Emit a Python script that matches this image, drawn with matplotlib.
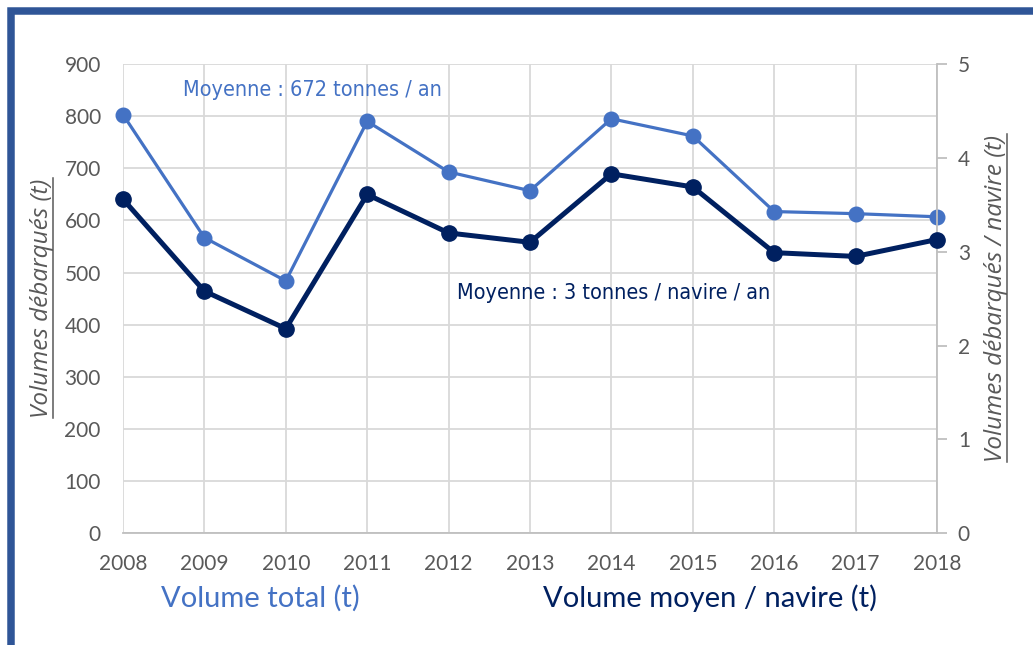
import matplotlib
matplotlib.use("Agg")
import matplotlib.pyplot as plt
from matplotlib.patches import Rectangle
from matplotlib.lines import Line2D

years = ["2008", "2009", "2010", "2011", "2012", "2013", "2014", "2015", "2016", "2017", "2018"]
volume_total = [803, 567, 484, 790, 693, 657, 795, 762, 617, 613, 607]
volume_moyen = [3.56, 2.58, 2.18, 3.61, 3.20, 3.10, 3.83, 3.69, 2.99, 2.95, 3.13]
left_ticks = [0, 100, 200, 300, 400, 500, 600, 700, 800, 900]
right_ticks = [0, 1, 2, 3, 4, 5]

LIGHT = "#4472C4"
DARK = "#002060"
GRAY = "#595959"
GRID = "#D9D9D9"

W, H = 1033, 645
fig = plt.figure(figsize=(W / 100, H / 100), dpi=100)
fig.patch.set_facecolor("white")

# frame
fig.patches.append(Rectangle((10.5 / W, -20 / H), (W + 40) / W, (H - 11 + 20) / H,
                             transform=fig.transFigure, fill=False,
                             edgecolor="#2F5597", linewidth=5.4, zorder=0))

ax1 = fig.add_axes([123 / W, 1 - 533.3 / H, (937 - 123) / W, (533.3 - 64) / H])
ax2 = ax1.twinx()

x = list(range(len(years)))

ax1.plot(x, volume_total, color=LIGHT, lw=2.3, marker="o", ms=10.5, zorder=3, clip_on=False)
ax2.plot(x, volume_moyen, color=DARK, lw=3.6, marker="o", ms=11, zorder=3, clip_on=False)

ax1.set_xlim(0, len(years) - 1)
ax1.set_ylim(0, 900)
ax2.set_ylim(0, 5)
ax1.set_yticks(left_ticks)
ax2.set_yticks(right_ticks)
ax1.set_xticks(x)
ax1.set_xticklabels(years)

for lab in ax1.get_xticklabels() + ax1.get_yticklabels() + ax2.get_yticklabels():
    lab.set_fontfamily("Lato")
    lab.set_fontsize(15)
    lab.set_color(GRAY)

ax1.grid(True, color=GRID, lw=1.3)
ax1.set_axisbelow(True)
ax1.tick_params(axis="x", length=0, pad=15)
ax1.tick_params(axis="y", length=0, pad=16)
ax2.tick_params(axis="y", length=7, width=1.3, color="#BFBFBF", pad=8, direction="out")

for ax in (ax1, ax2):
    for s in ax.spines.values():
        s.set_visible(False)
ax1.spines["bottom"].set_visible(True)
ax1.spines["bottom"].set_color("#BFBFBF")
ax1.spines["bottom"].set_linewidth(1.3)
ax2.spines["right"].set_visible(True)
ax2.spines["right"].set_color("#BFBFBF")
ax2.spines["right"].set_linewidth(1.3)

cond = dict(family="DejaVu Sans", fontstretch="condensed", fontsize=15.5)
ax1.text(0.74, 850, "Moyenne : 672 tonnes / an", color=LIGHT,
         ha="left", va="center", zorder=5, **cond)
ax1.text(4.10, 461, "Moyenne : 3 tonnes / navire / an", color=DARK,
         ha="left", va="center", zorder=5, **cond)

fig.text(260 / W, 1 - 598 / H, "Volume total (t)", color=LIGHT, fontsize=21,
         family="Lato", ha="center", va="center")
fig.text(710 / W, 1 - 598 / H, "Volume moyen / navire (t)", color=DARK, fontsize=21,
         family="Lato", ha="center", va="center")

lt = fig.text(42 / W, 1 - 298 / H, "Volumes débarqués (t)", color=GRAY, fontsize=17.5,
              family="Open Sans", style="italic", rotation=90, ha="center", va="center")
rt = fig.text(996 / W, 1 - 298 / H, "Volumes débarqués / navire (t)", color=GRAY, fontsize=17.5,
              family="Open Sans", style="italic", rotation=90, ha="center", va="center")

fig.canvas.draw()
r = fig.canvas.get_renderer()
for t in (lt, rt):
    bb = t.get_window_extent(r)
    xu = bb.x1 - 1
    fig.lines.append(Line2D([xu / W, xu / W], [bb.y0 / H, bb.y1 / H],
                            transform=fig.transFigure, color=GRAY, lw=1.1))

fig.savefig("out.png", dpi=100)
